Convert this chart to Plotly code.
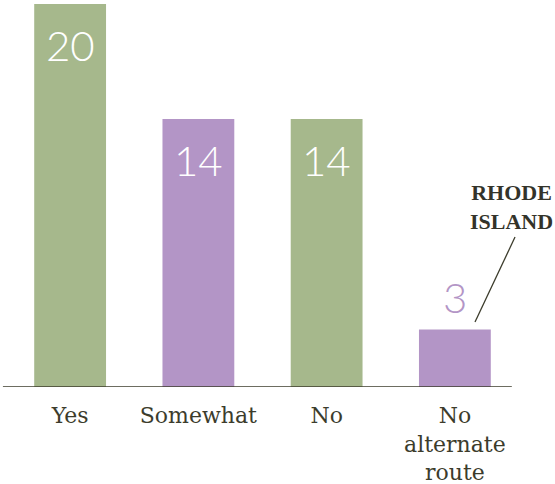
import plotly.graph_objects as go

categories = ["Yes", "Somewhat", "No", "No alternate route"]
tick_labels = ["Yes", "Somewhat", "No", "No<br>alternate<br>route"]
values = [20, 14, 14, 3]
bar_colors = ["#a6b88c", "#b395c6", "#a6b88c", "#b395c6"]

GREEN = "#a6b88c"
PURPLE = "#b395c6"
INK = "#3c3c2c"

fig = go.Figure()
fig.add_trace(go.Bar(
    x=categories, y=values,
    marker=dict(color=bar_colors, line_width=0),
    width=0.56,
    hoverinfo="skip",
))

# value labels: inside bar (white) unless bar too short
for cat, v in zip(categories, values):
    inside = v >= 5
    fig.add_annotation(
        x=cat, y=v, text=str(v), showarrow=False,
        yanchor="top" if inside else "bottom",
        yshift=-14 if inside else 6,
        font=dict(family="Lato", size=42, weight=300,
                  color="white" if inside else PURPLE),
    )

# Rhode Island callout
fig.add_shape(type="line", xref="x", yref="y",
              x0=3.157, y0=3.39, x1=3.469, y1=7.83,
              line=dict(color=INK, width=1.3))
fig.add_annotation(
    xref="x", yref="y", x=3.44, y=9.4, showarrow=False,
    text="RHODE<br>ISLAND", align="center",
    font=dict(family="Liberation Serif", size=22, weight="bold", color="#33332a"),
)

# baseline
fig.add_shape(type="line", xref="paper", yref="y",
              x0=-0.006, x1=0.986, y0=0, y1=0,
              line=dict(color=INK, width=1.5))

fig.update_xaxes(
    tickmode="array", tickvals=categories, ticktext=tick_labels,
    range=[-0.5, 3.5], showline=False, showgrid=False, zeroline=False,
    ticks="", ticklabelstandoff=13, automargin=False,
    tickfont=dict(family="DejaVu Serif", size=22, color=INK),
)
fig.update_yaxes(range=[0, 20], visible=False, showgrid=False, zeroline=False)

fig.update_layout(
    width=555, height=484,
    margin=dict(l=6, r=36, t=4, b=97),
    plot_bgcolor="white", paper_bgcolor="white",
    showlegend=False, bargap=0.44,
)

fig.write_html("out.html", config={"displayModeBar": False},
               post_script="document.body.style.margin='0';")
